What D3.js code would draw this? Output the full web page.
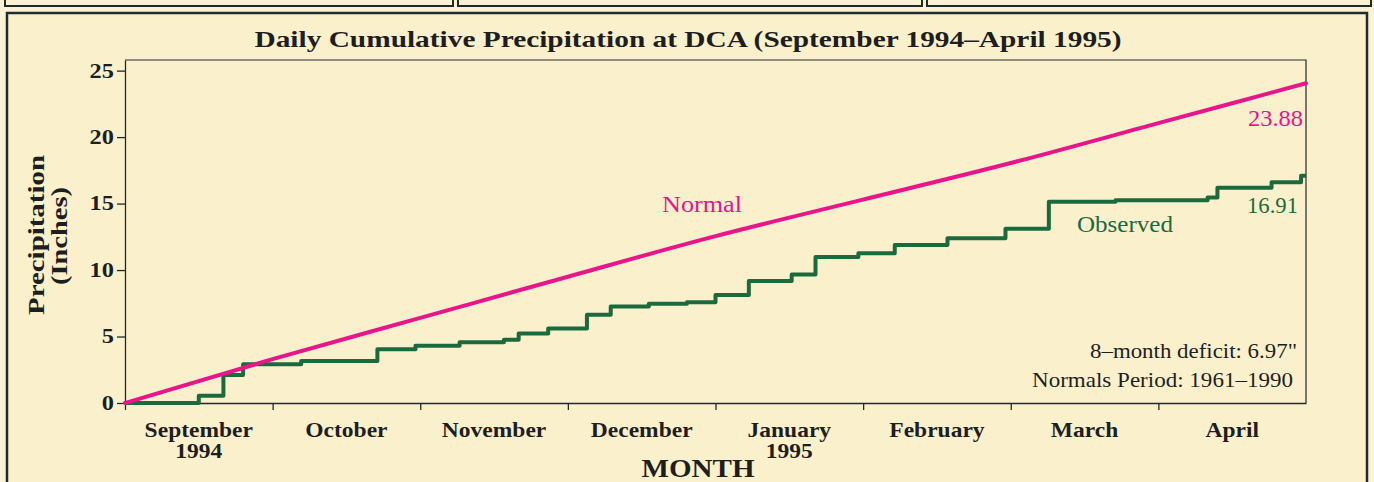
<!DOCTYPE html>
<html>
<head>
<meta charset="utf-8">
<script src="https://cdn.jsdelivr.net/npm/d3@7"></script>
<style>
html, body { margin: 0; padding: 0; background: #fbf2d4; }
svg { display: block; }
text { font-family: "Liberation Serif", "Times New Roman", serif; fill: #1e1e1e; }
</style>
</head>
<body>
<div class="canvas"></div>
<script>
// values
var months = ['September', 'October', 'November', 'December', 'January', 'February', 'March', 'April'];
var monthYears = ['1994', '', '', '', '1995', '', '', ''];
var yTicks = [0, 5, 10, 15, 20, 25];

// normal cumulative precipitation at the start of each month (Sep 1 .. May 1)
var normalDates = ['1994-09-01', '1994-10-01', '1994-11-01', '1994-12-01', '1995-01-01',
    '1995-02-01', '1995-03-01', '1995-04-01', '1995-05-01'];
var normalValues = [0, 3.3, 6.4, 9.5, 12.55, 15.3, 18.05, 21.05, 24.05];

// observed cumulative precipitation, value from that day on
var obsDates = ['1994-09-01', '1994-09-16', '1994-09-21', '1994-09-25', '1994-10-07', '1994-10-23',
    '1994-10-31', '1994-11-09', '1994-11-18', '1994-11-21', '1994-11-27', '1994-12-05',
    '1994-12-10', '1994-12-18', '1994-12-26', '1995-01-01', '1995-01-08', '1995-01-17',
    '1995-01-22', '1995-01-31', '1995-02-07', '1995-02-17', '1995-02-28', '1995-03-09',
    '1995-03-23', '1995-04-11', '1995-04-13', '1995-04-24', '1995-04-30', '1995-05-01'];
var obsValues = [0, 0.55, 2.1, 2.92, 3.15, 4.05,
    4.3, 4.57, 4.75, 5.22, 5.6, 6.63,
    7.25, 7.47, 7.58, 8.12, 9.17, 9.67,
    10.98, 11.26, 11.88, 12.39, 13.1, 15.13,
    15.25, 15.45, 16.2, 16.6, 17.1, 17.1];

var normalLabel = '23.88',
    observedLabel = '16.91';

var width = 1374,
    height = 482,
    margin = { top: 60, right: 68, bottom: 79, left: 125 };

var pink = '#e8168a',
    green = '#1b6a3e',
    ink = '#1e2a2c';

var parse = d3.timeParse('%Y-%m-%d'),
    start = parse('1994-09-01');

// month axis: every month gets the same width, days spread inside it
function monthPos(s) {
    var d = parse(s),
        m0 = d3.timeMonth.floor(d),
        m1 = d3.timeMonth.offset(m0, 1);
    return d3.timeMonth.count(start, m0) + (d - m0) / (m1 - m0);
}

// horizontally widen text (the original type is wider than Times)
function stretch(sel, k) {
    sel.each(function () {
        var t = d3.select(this),
            x = +t.attr('x') || 0;
        t.attr('x', x / k)
            .attr('transform', (t.attr('transform') || '') + ' scale(' + k + ',1)');
    });
}

var svg = d3.select('.canvas').append('svg')
    .attr('width', width)
    .attr('height', height);

// page boxes
svg.append('rect').attr('x', 5).attr('y', -10).attr('width', 448).attr('height', 16)
    .attr('fill', 'none').attr('stroke', ink).attr('stroke-width', 2);
svg.append('rect').attr('x', 458).attr('y', -10).attr('width', 464).attr('height', 16)
    .attr('fill', 'none').attr('stroke', ink).attr('stroke-width', 2);
svg.append('rect').attr('x', 927).attr('y', -10).attr('width', 444).attr('height', 16)
    .attr('fill', 'none').attr('stroke', ink).attr('stroke-width', 2);
svg.append('rect').attr('x', 7).attr('y', 13).attr('width', 1360).attr('height', 500)
    .attr('fill', '#fbf0cc').attr('stroke', ink).attr('stroke-width', 2.5);

var x = d3.scaleLinear()
    .domain([0, months.length])
    .range([margin.left, width - margin.right]);

var y = d3.scaleLinear()
    .domain([0, 25.8])
    .range([height - margin.bottom, margin.top]);

// plot frame top and right
svg.append('path')
    .attr('d', 'M' + x(0) + ',' + y(25.8) + 'H' + x(months.length) + 'V' + y(0))
    .attr('fill', 'none')
    .attr('stroke', ink)
    .attr('stroke-width', 1.2);

var yAxis = svg.append('g')
    .attr('transform', 'translate(' + x(0) + ',0)')
    .call(d3.axisLeft(y).tickValues(yTicks).tickSize(8).tickSizeOuter(0).tickPadding(3));

yAxis.selectAll('path, line').attr('stroke', ink).attr('stroke-width', 1.3);
yAxis.selectAll('text')
    .attr('font-size', 20)
    .attr('font-weight', 'bold')
    .attr('fill', '#1e1e1e')
    .style('font-family', '"Liberation Serif", serif');
stretch(yAxis.selectAll('text'), 1.22);

var xAxis = svg.append('g')
    .attr('transform', 'translate(0,' + y(0) + ')')
    .call(d3.axisBottom(x).tickValues(d3.range(months.length)).tickSize(7)
        .tickSizeOuter(0).tickFormat(''));

xAxis.selectAll('path, line').attr('stroke', ink).attr('stroke-width', 1.3);

// month names centred in each month
var mLabels = svg.append('g').selectAll('g')
    .data(months)
    .enter()
    .append('g');

mLabels.append('text')
    .attr('x', function (d, i) { return x(i + 0.5); })
    .attr('y', 437)
    .attr('text-anchor', 'middle')
    .attr('font-size', 21)
    .attr('font-weight', 'bold')
    .text(function (d) { return d; });

mLabels.append('text')
    .attr('x', function (d, i) { return x(i + 0.5); })
    .attr('y', 458)
    .attr('text-anchor', 'middle')
    .attr('font-size', 21)
    .attr('font-weight', 'bold')
    .text(function (d, i) { return monthYears[i]; });

stretch(mLabels.selectAll('text'), 1.12);

// lines
var normalData = normalDates.map(function (d, i) {
    return { t: monthPos(d), v: normalValues[i] };
});
var obsData = obsDates.map(function (d, i) {
    return { t: monthPos(d), v: obsValues[i] };
});

var line = d3.line()
    .x(function (d) { return x(d.t); })
    .y(function (d) { return y(d.v); });

svg.append('path')
    .datum(obsData)
    .attr('d', line.curve(d3.curveStepAfter))
    .attr('fill', 'none')
    .attr('stroke', green)
    .attr('stroke-width', 4)
    .attr('stroke-linejoin', 'round');

svg.append('path')
    .datum(normalData)
    .attr('d', line.curve(d3.curveMonotoneX))
    .attr('fill', 'none')
    .attr('stroke', pink)
    .attr('stroke-width', 4)
    .attr('stroke-linecap', 'round');

// titles
svg.append('text')
    .attr('x', 688)
    .attr('y', 47)
    .attr('text-anchor', 'middle')
    .attr('font-size', 23)
    .attr('font-weight', 'bold')
    .attr('textLength', 867)
    .attr('lengthAdjust', 'spacingAndGlyphs')
    .text('Daily Cumulative Precipitation at DCA (September 1994\u2013April 1995)');

svg.append('text')
    .attr('transform', 'translate(44,235) rotate(-90)')
    .attr('text-anchor', 'middle')
    .attr('font-size', 23)
    .attr('font-weight', 'bold')
    .attr('textLength', 160)
    .attr('lengthAdjust', 'spacingAndGlyphs')
    .text('Precipitation');

svg.append('text')
    .attr('transform', 'translate(67,236) rotate(-90)')
    .attr('text-anchor', 'middle')
    .attr('font-size', 23)
    .attr('font-weight', 'bold')
    .attr('textLength', 98)
    .attr('lengthAdjust', 'spacingAndGlyphs')
    .text('(Inches)');

svg.append('text')
    .attr('x', 698)
    .attr('y', 477)
    .attr('text-anchor', 'middle')
    .attr('font-size', 25)
    .attr('font-weight', 'bold')
    .attr('textLength', 113)
    .attr('lengthAdjust', 'spacingAndGlyphs')
    .text('MONTH');

// series labels
svg.append('text')
    .attr('x', 702).attr('y', 212)
    .attr('text-anchor', 'middle')
    .attr('font-size', 23)
    .attr('textLength', 80)
    .attr('lengthAdjust', 'spacingAndGlyphs')
    .style('fill', pink)
    .text('Normal');

svg.append('text')
    .attr('x', 1125).attr('y', 232)
    .attr('text-anchor', 'middle')
    .attr('font-size', 23)
    .attr('textLength', 96)
    .attr('lengthAdjust', 'spacingAndGlyphs')
    .style('fill', green)
    .text('Observed');

svg.append('text')
    .attr('x', 1303).attr('y', 126)
    .attr('text-anchor', 'end')
    .attr('font-size', 23)
    .attr('textLength', 55)
    .attr('lengthAdjust', 'spacingAndGlyphs')
    .style('fill', pink)
    .text(normalLabel);

svg.append('text')
    .attr('x', 1298).attr('y', 213)
    .attr('text-anchor', 'end')
    .attr('font-size', 23)
    .attr('textLength', 51)
    .attr('lengthAdjust', 'spacingAndGlyphs')
    .style('fill', green)
    .text(observedLabel);

// notes
svg.append('text')
    .attr('x', 1297).attr('y', 358)
    .attr('text-anchor', 'end')
    .attr('font-size', 21)
    .attr('textLength', 207)
    .attr('lengthAdjust', 'spacingAndGlyphs')
    .text('8\u2013month deficit: 6.97"');

svg.append('text')
    .attr('x', 1293).attr('y', 387)
    .attr('text-anchor', 'end')
    .attr('font-size', 21)
    .attr('textLength', 261)
    .attr('lengthAdjust', 'spacingAndGlyphs')
    .text('Normals Period: 1961\u20131990');
</script>
</body>
</html>
